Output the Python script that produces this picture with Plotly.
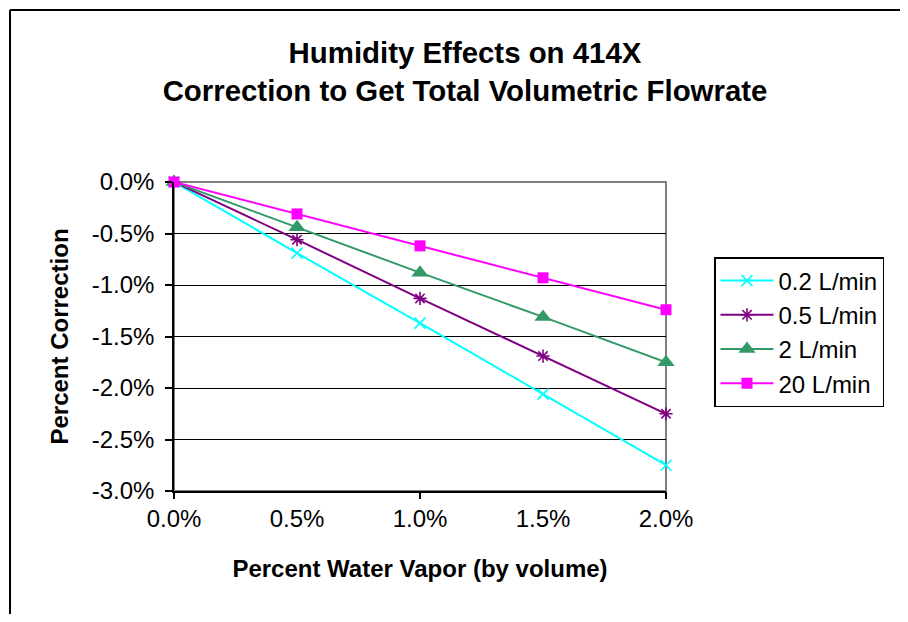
import plotly.graph_objects as go

# ---- data ----
water_vapor_pct = [0.0, 0.5, 1.0, 1.5, 2.0]
series_names = ["0.2 L/min", "0.5 L/min", "2 L/min", "20 L/min"]
corr_02 = [0.0, -0.69, -1.37, -2.06, -2.75]
corr_05 = [0.0, -0.56, -1.13, -1.69, -2.25]
corr_2 = [0.0, -0.44, -0.88, -1.31, -1.75]
corr_20 = [0.0, -0.31, -0.62, -0.93, -1.24]

x_tickvals = [0.0, 0.5, 1.0, 1.5, 2.0]
x_ticktext = ["0.0%", "0.5%", "1.0%", "1.5%", "2.0%"]
x_majorticks = [0.0, 1.0, 2.0]
y_tickvals = [0.0, -0.5, -1.0, -1.5, -2.0, -2.5, -3.0]
y_ticktext = ["0.0%", "-0.5%", "-1.0%", "-1.5%", "-2.0%", "-2.5%", "-3.0%"]

FONT = "Liberation Sans, Arial, sans-serif"

styles = [
    dict(color="#00FFFF", symbol="x-thin", size=11, open=True),
    dict(color="#800080", symbol="asterisk", size=11, open=True),
    dict(color="#339966", symbol="triangle-up", size=15, open=False),
    dict(color="#FF00FF", symbol="square", size=11, open=False),
]
values = [corr_02, corr_05, corr_2, corr_20]

fig = go.Figure()
for name, vals, st in zip(series_names, values, styles):
    marker = dict(symbol=st["symbol"], size=st["size"], color=st["color"])
    if st["open"]:
        marker["line"] = dict(color=st["color"], width=1.6)
    fig.add_trace(go.Scatter(
        x=water_vapor_pct, y=vals, name=name, mode="lines+markers",
        line=dict(color=st["color"], width=2), marker=marker,
        cliponaxis=False,
    ))

# invisible trace for the tick-mark axis
fig.add_trace(go.Scatter(x=[water_vapor_pct[0]], y=[corr_02[0]], xaxis="x2",
                         mode="markers", marker=dict(opacity=0),
                         showlegend=False, hoverinfo="skip"))

# page body has an 8px margin on every side; size the figure so nothing scrolls
OFF = 8
W, H = 908 - 2 * OFF, 622 - 2 * OFF
L, T = 174 - OFF, 182 - OFF
R = W - (666 - OFF)
B = H - (491 - OFF)
pw, ph = W - L - R, H - T - B

fig.update_layout(
    width=W, height=H,
    margin=dict(l=L, r=R, t=T, b=B, autoexpand=False),
    paper_bgcolor="white", plot_bgcolor="white",
    font=dict(family=FONT, size=24, color="black"),
    title=dict(
        text="<b>Humidity Effects on 414X<br>Correction to Get Total Volumetric Flowrate</b>",
        font=dict(family=FONT, size=29.4, color="black"),
        x=(465 - OFF) / W, xanchor="center", xref="container",
        y=1 - 55 / H, yanchor="middle", yref="container",
    ),
    xaxis=dict(
        range=[0, 2], tickvals=x_tickvals, ticktext=x_ticktext,
        ticks="", showgrid=False, zeroline=False,
        showline=True, linecolor="black", linewidth=1.5,
        ticklabelstandoff=5,
        title=dict(text="<b>Percent Water Vapor (by volume)</b>",
                   font=dict(family=FONT, size=24), standoff=30),
    ),
    xaxis2=dict(
        range=[0, 2], overlaying="x", side="bottom", tickvals=x_majorticks,
        ticks="outside", ticklen=7, tickcolor="black", tickwidth=1.5,
        showticklabels=False, showgrid=False, zeroline=False, showline=False,
    ),
    yaxis=dict(
        range=[-3, 0], tickvals=y_tickvals, ticktext=y_ticktext,
        ticks="outside", ticklen=7, tickcolor="black", tickwidth=1.5,
        showgrid=True, gridcolor="black", gridwidth=1.2, zeroline=False,
        showline=True, linecolor="black", linewidth=1.5,
        ticklabelstandoff=6,
        title=dict(text="<b>Percent Correction</b>",
                   font=dict(family=FONT, size=24), standoff=16),
    ),
    legend=dict(
        x=(714 - OFF - L) / pw, xanchor="left",
        y=(H - B - (257 - OFF)) / ph, yanchor="top",
        bordercolor="black", borderwidth=1.5, bgcolor="white",
        font=dict(family=FONT, size=24, color="black"),
        itemwidth=53,
    ),
    showlegend=True,
)

# plot-area border (gray), between grid and traces
fig.add_shape(type="rect", xref="paper", yref="paper", x0=0, x1=1, y0=0, y1=1,
              line=dict(color="#808080", width=2), layer="between")
# outer chart-area border: only the left and top edges are inside the picture
bx = (2 - L) / pw
by = (H - B - 2) / ph
fig.add_shape(type="line", xref="paper", yref="paper",
              x0=bx, x1=bx, y0=(H - B - (H + 20)) / ph, y1=by,
              line=dict(color="black", width=2), layer="above")
fig.add_shape(type="line", xref="paper", yref="paper",
              x0=bx, x1=(W + 20 - L) / pw, y0=by, y1=by,
              line=dict(color="black", width=2), layer="above")

fig.write_html("out.html")
